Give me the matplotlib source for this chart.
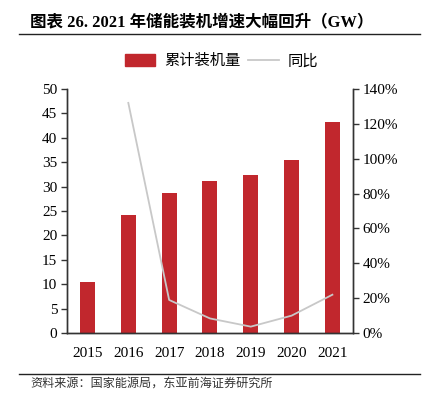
import matplotlib
matplotlib.use('Agg')
import matplotlib.pyplot as plt
from matplotlib.lines import Line2D
from matplotlib.patches import Patch
from matplotlib.ticker import FuncFormatter

plt.rcParams['font.family'] = ['Liberation Serif', 'Noto Sans CJK SC']

years = ['2015', '2016', '2017', '2018', '2019', '2020', '2021']
capacity = [10.4, 24.2, 28.7, 31.1, 32.3, 35.5, 43.3]     # GW
yoy = [None, 1.32, 0.19, 0.084, 0.037, 0.10, 0.22]        # growth rate

BAR_RED = '#C1272D'
LINE_GREY = '#C8C8C8'
AXIS = '#333333'

fig = plt.figure(figsize=(4.22, 3.97), dpi=100)
ax = fig.add_axes([0.159, 0.161, 0.677, 0.615])
ax2 = ax.twinx()

x = list(range(len(years)))
ax.bar(x, capacity, width=0.37, color=BAR_RED, zorder=2)

xs = [i for i, v in zip(x, yoy) if v is not None]
ys = [v for v in yoy if v is not None]
ax2.plot(xs, ys, color=LINE_GREY, lw=1.3, zorder=3)

ax.set_xlim(-0.5, 6.5)
ax.set_ylim(0, 50)
ax.set_yticks(range(0, 51, 5))
ax2.set_ylim(0, 1.4)
ax2.set_yticks([i / 10 for i in range(0, 15, 2)])
ax2.yaxis.set_major_formatter(FuncFormatter(lambda v, p: f'{v * 100:.0f}%'))
ax.set_xticks(x)
ax.set_xticklabels(years)

for a in (ax, ax2):
    a.spines['top'].set_visible(False)
    for s in ('left', 'right', 'bottom'):
        a.spines[s].set_color(AXIS)
        a.spines[s].set_linewidth(1.0)
    a.tick_params(axis='y', length=4, width=1.0, color=AXIS, labelsize=11, pad=3)
ax.tick_params(axis='x', length=0, labelsize=11, pad=10)
ax.set_zorder(ax2.get_zorder() - 1)
ax.patch.set_visible(False)

# title, rules, legend, source
fig.text(0.071, 0.943, '图表 26. 2021 年储能装机增速大幅回升（GW）',
         fontsize=11.9, fontweight='bold', va='center', ha='left',
         family=['Liberation Serif', 'Noto Sans CJK SC'])
fig.add_artist(Line2D([0.045, 0.995], [0.915, 0.915], color='#222222', lw=1.0))
fig.add_artist(Line2D([0.045, 0.995], [0.058, 0.058], color='#222222', lw=1.0))
fig.text(0.071, 0.035, '资料来源：国家能源局，东亚前海证券研究所', fontsize=8.7,
         va='center', ha='left', color='#333333', family=['Noto Sans CJK SC'])

handles = [Patch(color=BAR_RED), Line2D([], [], color=LINE_GREY, lw=1.3)]
fig.legend(handles, ['累计装机量', '同比'], loc='center', bbox_to_anchor=(0.525, 0.847),
           ncol=2, frameon=False, handlelength=2.0, handleheight=0.8,
           columnspacing=0.5, handletextpad=0.6,
           prop={'family': ['Noto Sans CJK SC'], 'size': 11})

fig.savefig('out.png', dpi=100)
